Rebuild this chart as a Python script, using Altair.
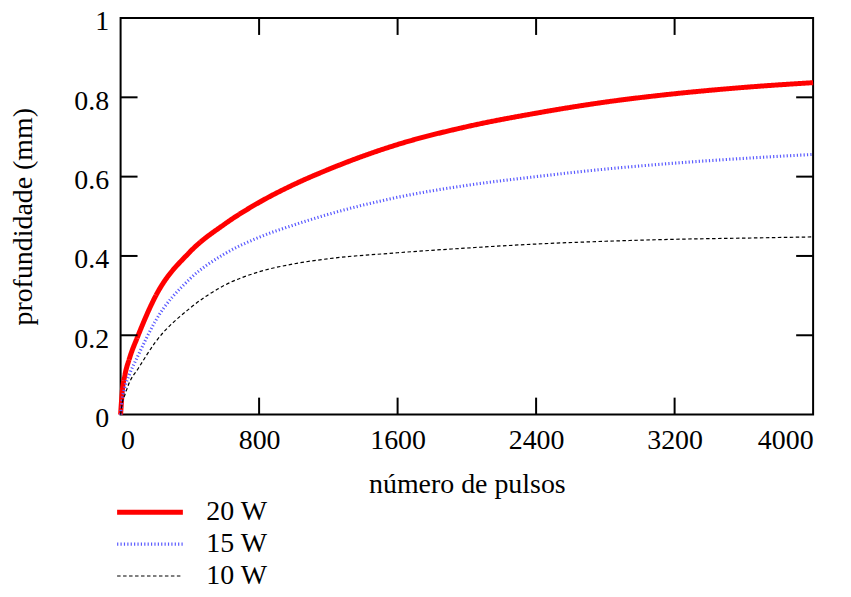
import altair as alt
import pandas as pd

# number of pulses
x_vals = [0, 10, 25, 50, 100, 200, 400, 600, 800, 1000, 1200, 1600, 2000, 2400, 2800, 3200, 3600, 4000]
# depth (mm)
y_20w = [0, 0.06, 0.10, 0.14, 0.198, 0.297, 0.41, 0.48, 0.535, 0.58, 0.618, 0.681, 0.726, 0.760, 0.788, 0.809, 0.825, 0.837]
y_15w = [0, 0.04, 0.07, 0.10, 0.148, 0.235, 0.342, 0.405, 0.447, 0.478, 0.505, 0.548, 0.578, 0.600, 0.619, 0.634, 0.646, 0.656]
y_10w = [0, 0.03, 0.05, 0.08, 0.115, 0.182, 0.268, 0.326, 0.36, 0.38, 0.393, 0.408, 0.42, 0.43, 0.437, 0.442, 0.445, 0.448]
series_names = ["20 W", "15 W", "10 W"]

x_ticks = [0, 800, 1600, 2400, 3200, 4000]
y_ticks = [0, 0.2, 0.4, 0.6, 0.8, 1]
x_inner_ticks = [800, 1600, 2400, 3200]
y_inner_ticks = [0.2, 0.4, 0.6, 0.8]

rows = []
for name, ys in zip(series_names, [y_20w, y_15w, y_10w]):
    for xv, yv in zip(x_vals, ys):
        rows.append({"series": name, "x": xv, "y": yv})
df = pd.DataFrame(rows)

W, H = 695, 398
FONT = "Liberation Serif, Times New Roman, serif"
FS = 28
TL = 17

xscale = alt.Scale(domain=[0, 4000], nice=False, zero=False)
yscale = alt.Scale(domain=[0, 1], nice=False, zero=False)

lines = alt.Chart(df).mark_line(interpolate="monotone").encode(
    x=alt.X("x:Q", scale=xscale,
            axis=alt.Axis(title="número de pulsos", values=x_ticks, ticks=False, domain=False,
                          grid=False, labelPadding=12, titlePadding=16, format="d",
                          labelFont=FONT, titleFont=FONT, labelFontSize=FS, titleFontSize=FS)),
    y=alt.Y("y:Q", scale=yscale,
            axis=alt.Axis(title="profundidade (mm)", values=y_ticks, ticks=False, domain=False,
                          grid=False, labelPadding=12, titlePadding=36, labelOffset=4,
                          labelFont=FONT, titleFont=FONT, labelFontSize=FS, titleFontSize=FS,
                          labelExpr="datum.value == 0 ? '0' : datum.value == 1 ? '1' : format(datum.value, '.1f')")),
    color=alt.Color("series:N", sort=series_names,
                    scale=alt.Scale(domain=series_names, range=["#ff0000", "#5a5aff", "#000000"]),
                    legend=alt.Legend(title=None, orient="none", legendX=-6, legendY=481, padding=0,
                                      symbolType="stroke", symbolSize=4356, labelOffset=21,
                                      labelFontSize=FS, labelFont=FONT, rowPadding=2, clipHeight=30,
                                      labelColor="black")),
    strokeDash=alt.StrokeDash("series:N", sort=series_names,
                              scale=alt.Scale(domain=series_names, range=[[1, 0], [1.2, 2.2], [3.5, 2.5]]),
                              legend=alt.Legend(title=None)),
    strokeWidth=alt.StrokeWidth("series:N", sort=series_names,
                                scale=alt.Scale(domain=series_names, range=[5, 1.2, 1.4]),
                                legend=alt.Legend(title=None)),
)

xt = pd.DataFrame({"x": x_inner_ticks})
yt = pd.DataFrame({"y": y_inner_ticks})

xb = alt.Chart(xt).mark_rule(color="black", strokeWidth=2).encode(
    x=alt.X("x:Q", scale=xscale), y=alt.value(H), y2=alt.value(H - TL))
xtop = alt.Chart(xt).mark_rule(color="black", strokeWidth=2).encode(
    x=alt.X("x:Q", scale=xscale), y=alt.value(0), y2=alt.value(TL))
yl = alt.Chart(yt).mark_rule(color="black", strokeWidth=2).encode(
    y=alt.Y("y:Q", scale=yscale), x=alt.value(0), x2=alt.value(TL))
yr = alt.Chart(yt).mark_rule(color="black", strokeWidth=2).encode(
    y=alt.Y("y:Q", scale=yscale), x=alt.value(W), x2=alt.value(W - TL))

chart = alt.layer(lines, xb, xtop, yl, yr).properties(
    width=W, height=H,
    autosize=alt.AutoSizeParams(type="none"),
    padding={"left": 113, "top": 9, "right": 30, "bottom": 172},
).configure_view(
    stroke="black", strokeWidth=2
).configure_axis(
    labelFont=FONT, titleFont=FONT, labelFontSize=FS, titleFontSize=FS,
    labelColor="black", titleColor="black", titleFontWeight="normal"
)

chart.save("out.html", embed_options={"renderer": "svg", "actions": False})
